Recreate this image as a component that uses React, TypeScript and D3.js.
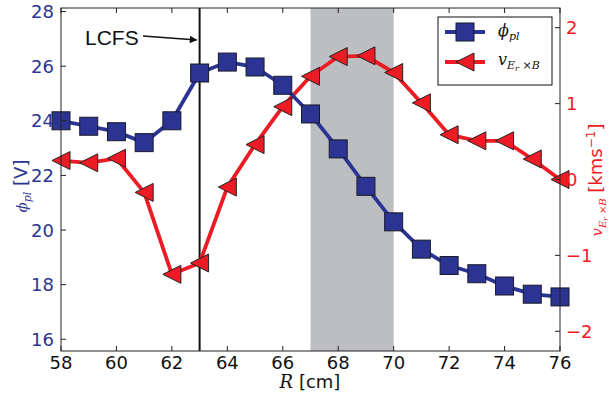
import * as d3 from 'd3';

const radius = [58, 59, 60, 61, 62, 63, 64, 65, 66, 67, 68, 69, 70, 71, 72, 73, 74, 75, 76];
const phiPl = [24.0, 23.8, 23.6, 23.2, 24.0, 25.75, 26.15, 25.97, 25.3, 24.25, 22.97, 21.6, 20.3, 19.3, 18.7, 18.4, 17.95, 17.65, 17.55];
const vExB = [0.25, 0.22, 0.28, -0.17, -1.25, -1.1, -0.1, 0.46, 0.96, 1.36, 1.62, 1.63, 1.41, 1.01, 0.59, 0.51, 0.51, 0.27, 0.0];
const xTicks = [58, 60, 62, 64, 66, 68, 70, 72, 74, 76];
const leftTicks = [16, 18, 20, 22, 24, 26, 28];
const rightTicks = [-2, -1, 0, 1, 2];
const band = [67, 70];
const lcfs = 63;

const BLUE = '#2b3492';
const RED = '#ed1c24';
const FONT = 'DejaVu Sans, sans-serif';
const SERIF = 'DejaVu Serif, serif';

export default function App() {
  const W = 612, H = 395;
  const m = { left: 61, right: 560, top: 8, bottom: 351 };

  const x = d3.scaleLinear().domain([58, 76]).range([m.left, m.right]);
  const yL = d3.scaleLinear().domain([15.57, 28.13]).range([m.bottom, m.top]);
  const yR = d3.scaleLinear().domain([-2.26, 2.26]).range([m.bottom, m.top]);

  const phiLine = d3.line<number>().x((_, i) => x(radius[i])).y(d => yL(d))(phiPl) || '';
  const vLine = d3.line<number>().x((_, i) => x(radius[i])).y(d => yR(d))(vExB) || '';

  const sq = 18;
  const tri = 9;
  const triPath = (cx: number, cy: number) =>
    `M${cx - tri},${cy} L${cx + tri},${cy - tri} L${cx + tri},${cy + tri} Z`;

  const tl = 5;

  return (
    <svg width={W} height={H} style={{ position: 'absolute', left: 0, top: 0, background: '#fff' }}>
      <defs>
        <marker id="arrow" viewBox="0 0 10 10" refX="9" refY="5" markerWidth="7" markerHeight="5" orient="auto">
          <path d="M0,0 L10,5 L0,10 Z" fill="#111" />
        </marker>
      </defs>

      {/* shaded band */}
      <rect x={x(band[0])} y={m.top} width={x(band[1]) - x(band[0])} height={m.bottom - m.top} fill="#bdbec2" />

      {/* LCFS line */}
      <line x1={x(lcfs)} x2={x(lcfs)} y1={m.top} y2={m.bottom} stroke="#111" strokeWidth={2} />
      <text x={85} y={45} fontFamily="Liberation Sans, Arial, sans-serif" fontSize={21} fill="#111">LCFS</text>
      <line x1={143} y1={36} x2={x(lcfs) - 3} y2={40} stroke="#111" strokeWidth={1.5} markerEnd="url(#arrow)" />

      {/* series */}
      <path d={vLine} fill="none" stroke={RED} strokeWidth={3.8} strokeLinejoin="round" />
      <path d={phiLine} fill="none" stroke={BLUE} strokeWidth={3.8} strokeLinejoin="round" />
      {phiPl.map((d, i) => (
        <rect key={'s' + i} x={x(radius[i]) - sq / 2} y={yL(d) - sq / 2} width={sq} height={sq}
          fill={BLUE} stroke="#1a1a2a" strokeWidth={1} />
      ))}
      {vExB.map((d, i) => (
        <path key={'t' + i} d={triPath(x(radius[i]), yR(d))} fill={RED} stroke="#222" strokeWidth={1} strokeLinejoin="miter" />
      ))}

      {/* frame */}
      <rect x={m.left} y={m.top} width={m.right - m.left} height={m.bottom - m.top} fill="none" stroke="#222" strokeWidth={1} />

      {/* bottom/top ticks */}
      {xTicks.map(t => (
        <g key={'x' + t}>
          <line x1={x(t)} x2={x(t)} y1={m.bottom} y2={m.bottom - tl} stroke="#222" />
          <line x1={x(t)} x2={x(t)} y1={m.top} y2={m.top + tl} stroke="#222" />
          <text x={x(t)} y={369} textAnchor="middle" fontFamily={FONT} fontSize={18} fill="#111">{t}</text>
        </g>
      ))}

      {/* left ticks */}
      {leftTicks.map(t => (
        <g key={'l' + t}>
          <line x1={m.left} x2={m.left + tl} y1={yL(t)} y2={yL(t)} stroke="#222" />
          <text x={54} y={yL(t) + 6.5} textAnchor="end" fontFamily={FONT} fontSize={18} fill={BLUE}>{t}</text>
        </g>
      ))}

      {/* right ticks */}
      {rightTicks.map(t => (
        <g key={'r' + t}>
          <line x1={m.right} x2={m.right - tl} y1={yR(t)} y2={yR(t)} stroke="#222" />
          <text x={566} y={yR(t) + 6.5} fontFamily={FONT} fontSize={18} fill={RED}>{t < 0 ? '\u2212' + Math.abs(t) : t}</text>
        </g>
      ))}

      {/* x label */}
      <text x={310} y={388} textAnchor="middle" fontFamily={FONT} fontSize={18} fill="#111">
        <tspan fontFamily={SERIF} fontStyle="italic">R</tspan>
        <tspan> [cm]</tspan>
      </text>

      {/* left label */}
      <text transform={`translate(27,186) rotate(-90)`} textAnchor="middle" fontFamily={FONT} fontSize={18} fill={BLUE}>
        <tspan fontFamily={SERIF} fontStyle="italic" fontSize={15}>ϕ</tspan>
        <tspan fontFamily={SERIF} fontStyle="italic" fontSize={11} dy={4}>pl</tspan>
        <tspan dy={-4}> [V]</tspan>
      </text>

      {/* right label */}
      <text transform={`translate(602,180) rotate(-90)`} textAnchor="middle" fontFamily={FONT} fontSize={18} fill={RED}>
        <tspan fontFamily={SERIF} fontStyle="italic" fontSize={15}>v</tspan>
        <tspan fontFamily={SERIF} fontStyle="italic" fontSize={10} dy={4}>E</tspan>
        <tspan fontFamily={SERIF} fontStyle="italic" fontSize={7} dy={2}>r</tspan>
        <tspan fontFamily={SERIF} fontSize={10} dy={-2}> ×</tspan>
        <tspan fontFamily={SERIF} fontStyle="italic" fontSize={10}>B</tspan>
        <tspan dy={-4}> [kms</tspan>
        <tspan fontSize={12} dy={-7}>−1</tspan>
        <tspan dy={7}>]</tspan>
      </text>

      {/* legend */}
      <g>
        <rect x={438} y={17} width={114} height={68} fill="#fff" stroke="#111" strokeWidth={1} />
        <line x1={445} x2={485} y1={32} y2={32} stroke={BLUE} strokeWidth={3.8} />
        <rect x={465 - sq / 2} y={32 - sq / 2} width={sq} height={sq} fill={BLUE} stroke="#1a1a2a" />
        <text x={498} y={36} fontFamily={SERIF} fontStyle="italic" fill="#111">
          <tspan fontSize={16}>ϕ</tspan>
          <tspan fontSize={11} dy={4}>pl</tspan>
        </text>
        <line x1={445} x2={485} y1={62} y2={62} stroke={RED} strokeWidth={3.8} />
        <path d={triPath(465, 62)} fill={RED} stroke="#222" />
        <text x={498} y={65} fontFamily={SERIF} fill="#111">
          <tspan fontStyle="italic" fontSize={16}>v</tspan>
          <tspan fontStyle="italic" fontSize={11} dy={4}>E</tspan>
          <tspan fontStyle="italic" fontSize={8} dy={2}>r</tspan>
          <tspan fontSize={11} dy={-2}> ×</tspan>
          <tspan fontStyle="italic" fontSize={11}>B</tspan>
        </text>
      </g>
    </svg>
  );
}
